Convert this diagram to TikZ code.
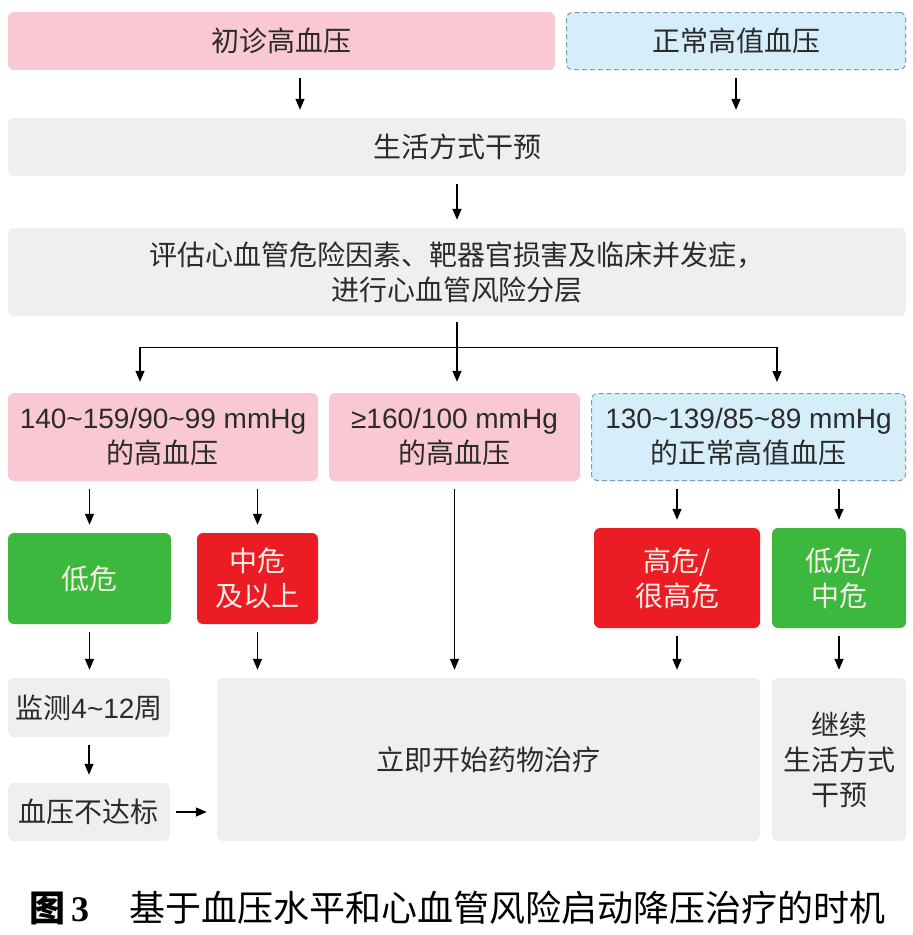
\documentclass[tikz,border=0pt]{standalone}
\usepackage{fontspec}
\setmainfont{Noto Sans CJK SC}
\newfontfamily\latinf{Liberation Sans}
\newfontfamily\capf{Liberation Serif}
\usetikzlibrary{arrows.meta,positioning}
\definecolor{bppink}{HTML}{F9C8D2}
\definecolor{bpblue}{HTML}{D5EEFA}
\definecolor{bpdash}{HTML}{7E9AB2}
\definecolor{bpgray}{HTML}{EFEFEF}
\definecolor{bpgreen}{HTML}{3DB83F}
\definecolor{bpred}{HTML}{EC1C24}
\definecolor{bptext}{HTML}{2B2B2B}
\definecolor{bplight}{HTML}{F8EEE6}
\newcommand{\tld}{\textasciitilde}
\tikzset{
flowbox/.style={
  rectangle,
  rounded corners=6pt,
  inner sep=0pt,
  align=center,
  text=bptext,
  font=\fontsize{28}{35}\selectfont
  },
pinkbox/.style={flowbox, fill=bppink},
bluebox/.style={flowbox, fill=bpblue, draw=bpdash, line width=1pt,
  dash pattern=on 5pt off 3pt},
graybox/.style={flowbox, fill=bpgray},
greenbox/.style={flowbox, fill=bpgreen, text=bplight},
redbox/.style={flowbox, fill=bpred, text=bplight},
arr/.style={-{Triangle[length=11pt,width=9pt]}, line width=1.3pt,
  shorten <=8pt, shorten >=8pt}
}

\begin{document}
\begin{tikzpicture}[x=1pt,y=-1pt]
\useasboundingbox (0,0) rectangle (913,935);

% top row
\node[pinkbox, minimum width=547pt, minimum height=58pt] (chuzhen) at (281.5,41) {初诊高血压};
\node[bluebox, minimum width=339pt, minimum height=57pt] (zhengchang) at (736,41) {正常高值血压};
\node[graybox, minimum width=898pt, minimum height=58pt] (ganyu) at (457,147) {生活方式干预};
\node[graybox, minimum width=898pt, minimum height=88pt] (pinggu) at (457,272)
  {评估心血管危险因素、靶器官损害及临床并发症，\\进行心血管风险分层};

% blood pressure levels
\node[pinkbox, minimum width=310pt, minimum height=88pt] (grade1) at (163,437)
  {{\latinf 140\tld159/90\tld99 mmHg}\\的高血压};
\node[pinkbox, minimum width=251pt, minimum height=88pt] (grade2) at (454.5,437)
  {{\latinf ≥160/100 mmHg}\\的高血压};
\node[bluebox, minimum width=314pt, minimum height=87pt] (grade0) at (748.5,437)
  {{\latinf 130\tld139/85\tld89 mmHg}\\的正常高值血压};

% risk
\node[greenbox, minimum width=163pt, minimum height=91pt] (diwei) at (89.5,578.5) {低危};
\node[redbox, minimum width=121pt, minimum height=91pt] (zhongwei) at (257.5,578.5) {中危\\及以上};
\node[redbox, minimum width=166pt, minimum height=100pt] (gaowei) at (677,578) {高危/\\很高危};
\node[greenbox, minimum width=134pt, minimum height=100pt] (dizhong) at (839,578) {低危/\\中危};

% actions
\node[graybox, minimum width=162pt, minimum height=59pt] (jiance) at (89,707.5) {监测{\latinf 4\tld12}周};
\node[graybox, minimum width=162pt, minimum height=58pt] (budabiao) at (89,812) {血压不达标};
\node[graybox, minimum width=543pt, minimum height=163pt] (yaowu) at (488.5,759.5) {立即开始药物治疗};
\node[graybox, minimum width=134pt, minimum height=163pt] (jixu) at (839,759.5) {继续\\生活方式\\干预};

\node[anchor=west, inner sep=0pt, text=black, font=\fontsize{36}{40}\selectfont] (caption) at (29,908)
  {{\bfseries 图\,}{\capf\bfseries 3}\hspace{40pt}基于血压水平和心血管风险启动降压治疗的时机};

\draw[arr] ([xshift=18.5pt]chuzhen.south) -- ([xshift=18.5pt]chuzhen.south |- ganyu.north);
\draw[arr] (zhengchang.south) -- (zhengchang.south |- ganyu.north);
\draw[arr] (ganyu.south) -- (pinggu.north);

\begin{scope}
\coordinate(split) at([yshift=-31pt]pinggu.south);
\coordinate(b1) at([xshift=-23pt]grade1.north);
\coordinate(b2) at(pinggu.south |- grade2.north);
\coordinate(b3) at([xshift=28.5pt]grade0.north);

\draw[line width=1.3pt, shorten <=6pt] (pinggu.south) -- (split);
\draw[line width=1.3pt] (split -| b1) -- (split -| b3);
\draw[arr, shorten <=0pt, shorten >=11pt] (split -| b1) -- (b1);
\draw[arr, shorten <=0pt, shorten >=11pt] (split) -- (b2);
\draw[arr, shorten <=0pt, shorten >=11pt] (split -| b3) -- (b3);
\end{scope}

\draw[arr] (grade1.south -| diwei.north) -- (diwei.north);
\draw[arr] (grade1.south -| zhongwei.north) -- (zhongwei.north);
\draw[arr] (grade0.south -| gaowei.north) -- (gaowei.north);
\draw[arr] (grade0.south -| dizhong.north) -- (dizhong.north);
\draw[arr] (grade2.south) -- (grade2.south |- yaowu.north);

\draw[arr] (diwei.south) -- (diwei.south |- jiance.north);
\draw[arr] (zhongwei.south) -- (zhongwei.south |- yaowu.north);
\draw[arr] (gaowei.south) -- (gaowei.south |- yaowu.north);
\draw[arr] (dizhong.south) -- (dizhong.south |- jixu.north);
\draw[arr] (jiance.south) -- (jiance.south |- budabiao.north);
\draw[arr, shorten <=6pt, shorten >=10pt] (budabiao.east) -- (budabiao.east -| yaowu.west);
\end{tikzpicture}
\end{document}
